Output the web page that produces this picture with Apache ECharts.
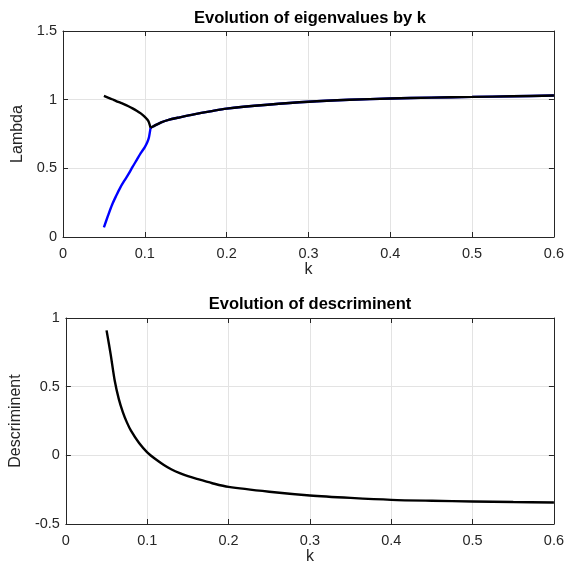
<!DOCTYPE html>
<html>
<head>
<meta charset="utf-8">
<script src="https://cdn.jsdelivr.net/npm/echarts@6/dist/echarts.min.js"></script>
<style>
  html, body { margin: 0; padding: 0; background: #fff; }
  #chart { width: 567px; height: 572px; }
</style>
</head>
<body>
<div id="chart"></div>
<script>
// eigenvalues, upper branch (black) before they meet
var kUpper   = [0.05, 0.055, 0.06, 0.065, 0.07, 0.075, 0.08, 0.085, 0.09, 0.095, 0.1, 0.103, 0.105, 0.107];
var lamUpper = [1.027, 1.015, 1.003, 0.99, 0.978, 0.966, 0.952, 0.937, 0.92, 0.9, 0.875, 0.855, 0.835, 0.795];
// lower branch (blue)
var kLower   = [0.05, 0.055, 0.06, 0.065, 0.07, 0.075, 0.08, 0.085, 0.09, 0.095, 0.1, 0.103, 0.105, 0.107];
var lamLower = [0.07, 0.155, 0.235, 0.3, 0.36, 0.41, 0.457, 0.51, 0.56, 0.61, 0.655, 0.69, 0.725, 0.795];
// after the meeting point both coincide
var kRight   = [0.107, 0.11, 0.12, 0.13, 0.14, 0.16, 0.18, 0.2, 0.25, 0.3, 0.35, 0.4, 0.45, 0.5, 0.55, 0.6];
var lamRight = [0.795, 0.805, 0.835, 0.855, 0.868, 0.893, 0.915, 0.935, 0.963, 0.985, 0.999, 1.008, 1.015, 1.02, 1.025, 1.03];

// descriminent
var kDisc = [0.05, 0.055, 0.06, 0.065, 0.07, 0.075, 0.08, 0.09, 0.1, 0.11, 0.12, 0.13, 0.14, 0.15, 0.16, 0.18, 0.2, 0.25, 0.3, 0.35, 0.4, 0.45, 0.5, 0.55, 0.6];
var disc  = [0.91, 0.737, 0.545, 0.411, 0.315, 0.24, 0.18, 0.09, 0.022, -0.027, -0.068, -0.103, -0.13, -0.152, -0.17, -0.203, -0.23, -0.265, -0.292, -0.31, -0.324, -0.331, -0.336, -0.34, -0.343];

var xTicks = { min: 0, max: 0.6, interval: 0.1 };
var yTop = { min: 0, max: 1.5, interval: 0.5 };
var yBot = { min: -0.5, max: 1, interval: 0.5 };

var FONT = "'Liberation Sans', Arial, sans-serif";
var AX = '#262626';

function zip(xs, ys) { return xs.map((x, i) => [x, ys[i]]); }

function mainX(gi, name) {
    return {
        type: 'value', gridIndex: gi, position: 'bottom',
        min: xTicks.min, max: xTicks.max, interval: xTicks.interval,
        name: name, nameLocation: 'middle', nameGap: 20,
        nameTextStyle: { color: AX, fontSize: 16, fontFamily: FONT },
        axisLine: { show: true, onZero: false, lineStyle: { color: AX, width: 1 } },
        axisTick: { show: true, inside: true, length: 5, lineStyle: { color: AX } },
        axisLabel: { color: AX, fontSize: 14.5, fontFamily: FONT, margin: 9 },
        splitLine: { show: true, lineStyle: { color: '#e3e3e3', width: 1 } }
    };
}
function boxX(gi) {
    return {
        type: 'value', gridIndex: gi, position: 'top',
        min: xTicks.min, max: xTicks.max, interval: xTicks.interval,
        axisLine: { show: true, onZero: false, lineStyle: { color: AX, width: 1 } },
        axisTick: { show: true, inside: true, length: 5, lineStyle: { color: AX } },
        axisLabel: { show: false }, splitLine: { show: false }
    };
}
function mainY(gi, r, name, gap) {
    return {
        type: 'value', gridIndex: gi, position: 'left',
        min: r.min, max: r.max, interval: r.interval,
        name: name, nameLocation: 'middle', nameGap: gap, nameRotate: 90,
        nameTextStyle: { color: AX, fontSize: 16, fontFamily: FONT },
        axisLine: { show: true, onZero: false, lineStyle: { color: AX, width: 1 } },
        axisTick: { show: true, inside: true, length: 5, lineStyle: { color: AX } },
        axisLabel: { color: AX, fontSize: 14.5, fontFamily: FONT, margin: 6 },
        splitLine: { show: true, lineStyle: { color: '#e3e3e3', width: 1 } }
    };
}
function boxY(gi, r) {
    return {
        type: 'value', gridIndex: gi, position: 'right',
        min: r.min, max: r.max, interval: r.interval,
        axisLine: { show: true, onZero: false, lineStyle: { color: AX, width: 1 } },
        axisTick: { show: true, inside: true, length: 5, lineStyle: { color: AX } },
        axisLabel: { show: false }, splitLine: { show: false }
    };
}
function line(xi, yi, data, color) {
    return {
        type: 'line', xAxisIndex: xi, yAxisIndex: yi, data: data,
        symbol: 'none', smooth: 0.3, animation: false,
        lineStyle: { color: color, width: 2.4 }
    };
}

var chart = echarts.init(document.getElementById('chart'), null, { renderer: 'canvas' });
chart.setOption({
    backgroundColor: '#fff',
    animation: false,
    graphic: [
        { type: 'text', x: 310, y: 18.5, style: { text: 'Evolution of eigenvalues by k', fill: '#000',
            font: 'bold 16.5px ' + FONT, textAlign: 'center', textVerticalAlign: 'middle' } },
        { type: 'text', x: 310, y: 304.2, style: { text: 'Evolution of descriminent', fill: '#000',
            font: 'bold 16.5px ' + FONT, textAlign: 'center', textVerticalAlign: 'middle' } }
    ],
    grid: [
        { left: 63, right: 10, top: 31, height: 206 },
        { left: 63, right: 10, top: 318, height: 206 }
    ],
    xAxis: [mainX(0, 'k'), boxX(0), mainX(1, 'k'), boxX(1)],
    yAxis: [mainY(0, yTop, 'Lambda', 29), boxY(0, yTop), mainY(1, yBot, 'Descriminent', 36), boxY(1, yBot)],
    series: [
        line(0, 0, zip(kRight, lamRight), '#0000ff'),
        line(0, 0, zip(kLower, lamLower), '#0000ff'),
        line(0, 0, zip(kUpper, lamUpper), '#000000'),
        line(0, 0, zip(kRight, lamRight), '#000000'),
        line(2, 2, zip(kDisc, disc), '#000000')
    ]
});
</script>
</body>
</html>
